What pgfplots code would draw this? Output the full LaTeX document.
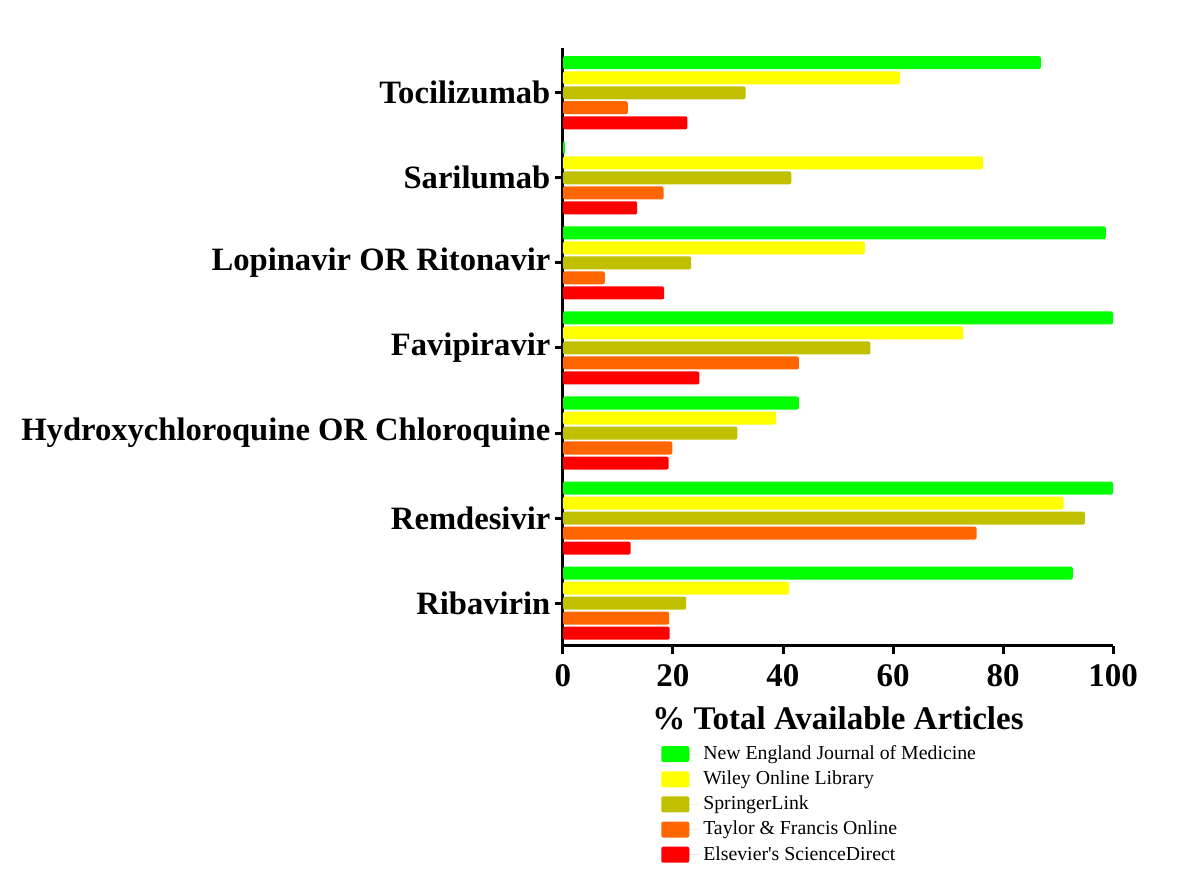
\documentclass[border=0pt]{standalone}
\usepackage{pgfplots}
\pgfplotsset{compat=1.18}
\usepackage{fontspec}
\setmainfont{Liberation Serif}
\definecolor{cgreen}{HTML}{00FF00}
\definecolor{cyellow}{HTML}{FFFF00}
\definecolor{colive}{HTML}{C0C000}
\definecolor{corange}{HTML}{FF6600}
\definecolor{cred}{HTML}{FF0000}
\begin{document}
\begin{tikzpicture}
\useasboundingbox (0,0) rectangle (600pt,440.5pt);
\begin{axis}[
  at={(281.5pt,117.65pt)}, anchor=south west,
  width=275pt, height=299pt, scale only axis,
  xmin=0, xmax=100, ymin=-0.5, ymax=6.53,
  xbar, bar width=0.153,
  axis x line*=bottom, axis y line*=left,
  axis line style={line width=1.5pt, black},
  xtick={0,20,...,100},
  ytick={0,...,6},
  yticklabels={Ribavirin, Remdesivir, Hydroxychloroquine OR Chloroquine, Favipiravir, Lopinavir OR Ritonavir, Sarilumab, Tocilizumab},
  tick style={line width=1.5pt, black},
  tick align=outside, major tick length=4pt,
  ticklabel style={font=\fontsize{16.5}{18}\selectfont\bfseries},
  yticklabel style={font=\fontsize{16.3}{18}\selectfont\bfseries, xshift=1.2pt},
  xticklabel style={yshift=-2pt},
  /pgf/number format/assume math mode=true,
  xlabel={\% Total Available Articles},
  xlabel style={font=\fontsize{16.5}{18}\selectfont\bfseries, at={(axis description cs:0.5,-0.121)}, anchor=center},
  legend style={at={(0.167,-0.153)}, anchor=north west, draw=none, fill=none,
    font=\fontsize{9.9}{11}\selectfont, row sep=0.2pt},
  legend cell align=left,
  legend image code/.code={\fill[#1, draw=none, rounded corners=1pt] (0pt,-4pt) rectangle (14pt,4pt); \path (0pt,0pt) -- (19pt,0pt);},
  every axis plot/.append style={draw=none, rounded corners=1pt},
]
\addplot[fill=cgreen, bar shift=0.353] coordinates {(92.7,0) (100,1) (42.9,2) (100,3) (98.7,4) (0.35,5) (86.9,6)};
\addplot[fill=cyellow, bar shift=0.176] coordinates {(41.1,0) (91,1) (38.75,2) (72.8,3) (54.9,4) (76.4,5) (61.3,6)};
\addplot[fill=colive, bar shift=0] coordinates {(22.4,0) (94.9,1) (31.7,2) (55.9,3) (23.3,4) (41.5,5) (33.2,6)};
\addplot[fill=corange, bar shift=-0.176] coordinates {(19.3,0) (75.2,1) (19.9,2) (42.9,3) (7.6,4) (18.3,5) (11.8,6)};
\addplot[fill=cred, bar shift=-0.353] coordinates {(19.4,0) (12.3,1) (19.2,2) (24.8,3) (18.4,4) (13.5,5) (22.6,6)};
\legend{New England Journal of Medicine, Wiley Online Library, SpringerLink, Taylor \& Francis Online, Elsevier\textquotesingle s ScienceDirect}
\end{axis}
\end{tikzpicture}
\end{document}
